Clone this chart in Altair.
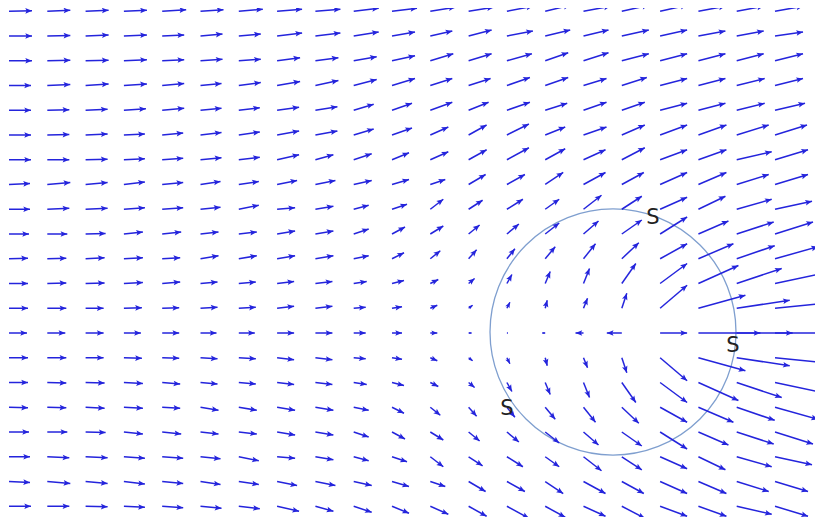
import math
import altair as alt
import pandas as pd

# grid: 21 columns (index 0..20), rows with y index 13 (top) .. -7 (bottom)
COLS = list(range(21))
ROWS_UP = list(range(13, -1, -1))  # rows (upper half incl. centre row)

# arrow components, in screen pixels (dy positive = up)
DX = [
    [23,23,23,23,24,23,24,25,25,25,25,25,25,26,25,27,27,27,27,27,28],
    [23,23,23,23,22,22,22,25,25,25,23,22,23,26,25,25,27,27,27,27,28],
    [23,23,23,23,22,22,22,23,23,23,23,23,23,25,23,25,27,27,27,27,28],
    [22,23,23,23,22,21,22,23,23,23,23,22,22,23,23,23,25,27,27,28,28],
    [22,22,22,22,22,21,21,22,22,20,20,22,20,23,22,23,23,27,27,28,30],
    [22,22,22,21,21,21,21,22,22,20,20,18,18,22,20,23,23,27,28,32,32],
    [22,22,22,21,21,21,21,22,18,18,17,18,18,22,20,22,23,27,28,35,33],
    [21,23,22,21,21,20,20,20,20,18,17,15,17,18,18,22,22,27,28,32,33],
    [21,22,22,21,21,20,20,18,18,15,15,13,14,16,14,18,20,27,27,35,37],
    [20,20,20,19,19,18,18,18,18,15,13,13,11,12,14,15,20,27,30,37,38],
    [19,19,19,19,18,18,18,18,18,15,12,10,8,8,10,12,17,27,35,38,43],
    [19,19,19,19,18,17,17,17,17,13,12,8,6,5,5,6,14,27,40,45,47],
    [19,19,18,18,17,17,17,17,17,12,10,7,4,3,2,4,5,27,47,53,50],
    [18,18,18,17,17,16,16,17,17,12,10,7,3,1,-3,-8,-15,27,62,56,50],
]
DY = [
    [0.5,1,1,1,1.5,1.5,2,2,2,3,3,4,4,5,6,5,6,6,5,5,5],
    [0,0.5,1,1,1,2,2,3,3,4,4,5,6,5,6,6,6,6,5,5,4],
    [0,0.5,0.5,1,1,1.5,1.5,3,3,4,5,7,7,7,8,8,7,7,7,7,7],
    [0,1,1.5,1.5,2,2,3,4,5,6,7,7,7,8,8,7,8,7,7,7,7],
    [0,0.5,1,1.5,2,2,2.5,3,3.5,6,7,8,8,8,7,8,8,7,7,7,7],
    [0,0.5,1,1,2,2.5,3,4,4,6,7,8,10,11,8,8,10,10,10,10,10],
    [0,0,0.5,1,1.5,2,2.5,5,5,6,7,8,10,12,11,10,12,10,10,8,10],
    [1,2,2,2.5,2,3,3,4,4,4,5,5,10,10,12,12,12,12,12,10,10],
    [0,1,1,1.5,1.5,2,4,1.5,3,4,5,10,9,10,10,14,13,12,13,10,8],
    [0,0,0.5,2,2,2,2,3,3,5,7,8,9,10,11,13,14,17,13,12,12],
    [0.5,0.5,1,1,1,3,3,3,3,3,6,8,9,10,12,15,16,15,15,13,12],
    [0,0.5,0.5,1,1.5,1.5,1.5,2,2,2,3,4,5,9,12,15,20,20,18,15,10],
    [0,0,0,0.5,0.5,1,1,2,2,1,1.5,3,3,6,8,10,15,23,13,8,5],
    [0]*21,
]
# lower rows are the mirror image of the upper rows (y index -k mirrors +k)
LOWER_ROWS = [1, 2, 3, 4, 5, 6, 7]

CIRCLE_X = [15.77]
CIRCLE_Y = [0.04]
LABEL_TEXT = ["S", "S", "S"]
LABEL_X = [16.81, 18.90, 13.0]
LABEL_Y = [4.65, -0.53, -3.07]

PX_X = 38.3   # pixels per column
PX_Y = 24.75  # pixels per row
BLUE = "#2424dc"

recs = []
for j, yv in enumerate(ROWS_UP):
    for i in COLS:
        recs.append((i, yv, DX[j][i], DY[j][i]))
for k in LOWER_ROWS:
    j = ROWS_UP.index(k)
    for i in COLS:
        recs.append((i, -k, DX[j][i], -DY[j][i]))

rows = []
for (i, yv, dx, dy) in recs:
    L = math.hypot(dx, dy)
    ang = math.degrees(math.atan2(-dy, dx)) % 360
    s = min(1.0, L / 8.0)
    rows.append(dict(x=i, y=yv, x2=i + dx / PX_X, y2=yv + dy / PX_Y,
                     ang=ang, hs=180 * s * s))
df = pd.DataFrame(rows)

xs = alt.Scale(domain=[-0.0261, 21.044], nice=False, zero=False)
ys = alt.Scale(domain=[-7.434, 13.131], nice=False, zero=False)

shafts = alt.Chart(df).mark_rule(strokeWidth=1.5, color=BLUE).encode(
    x=alt.X("x:Q", scale=xs, axis=None),
    y=alt.Y("y:Q", scale=ys, axis=None),
    x2="x2:Q",
    y2="y2:Q",
)

HEAD = "M0,0L-1,-0.42L-0.8,0L-1,0.42Z"
heads = alt.Chart(df).mark_point(shape=HEAD, filled=True, color=BLUE,
                                 opacity=1, strokeWidth=0).encode(
    x=alt.X("x2:Q", scale=xs, axis=None),
    y=alt.Y("y2:Q", scale=ys, axis=None),
    angle=alt.Angle("ang:Q", scale=None),
    size=alt.Size("hs:Q", scale=None),
)

circ_df = pd.DataFrame({"x": CIRCLE_X, "y": CIRCLE_Y})
circle = alt.Chart(circ_df).mark_point(shape="circle", filled=False,
                                       size=246 * 246, strokeWidth=1.3,
                                       color="#7f9fcf", opacity=1).encode(
    x=alt.X("x:Q", scale=xs, axis=None),
    y=alt.Y("y:Q", scale=ys, axis=None),
)

lab_df = pd.DataFrame({"x": LABEL_X, "y": LABEL_Y, "t": LABEL_TEXT})
labels = alt.Chart(lab_df).mark_text(fontSize=21, font="DejaVu Sans",
                                     color="#222222", align="center",
                                     baseline="middle").encode(
    x=alt.X("x:Q", scale=xs, axis=None),
    y=alt.Y("y:Q", scale=ys, axis=None),
    text="t:N",
)

chart = alt.layer(circle, shafts, heads, labels).properties(
    width=807, height=509,
    autosize=alt.AutoSizeParams(type="none"),
    padding=0,
    background="white",
).configure_view(stroke=None)

chart.save("out.html", embed_options={"renderer": "svg", "actions": False})
